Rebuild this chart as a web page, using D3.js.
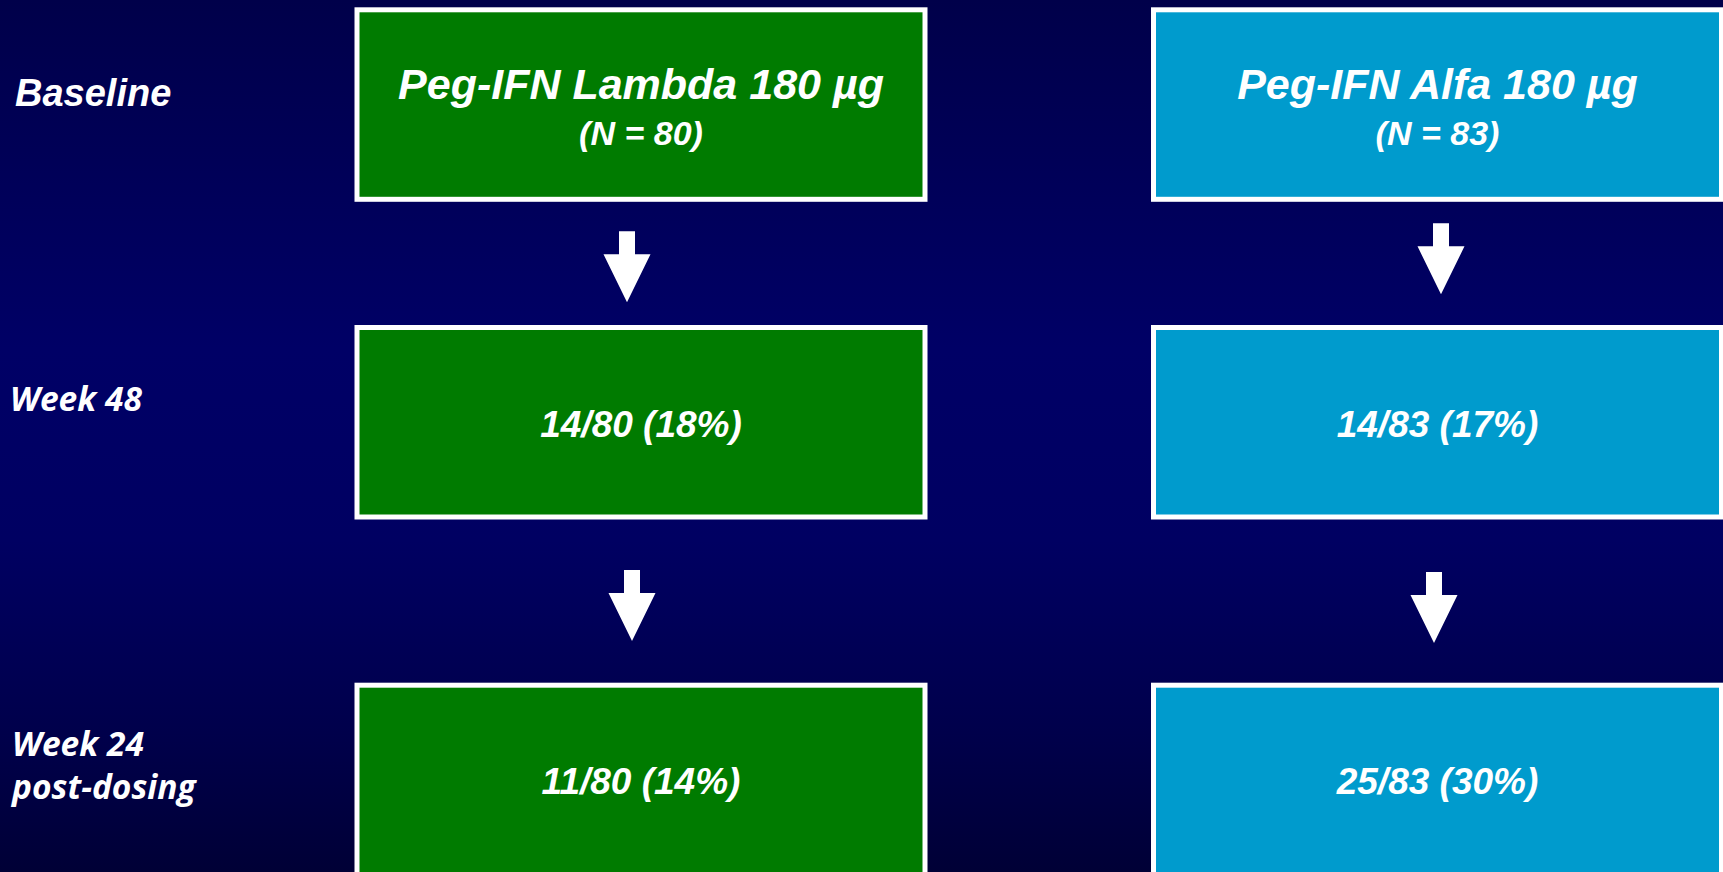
<!DOCTYPE html>
<html>
<head>
<meta charset="utf-8">
<script src="https://cdn.jsdelivr.net/npm/d3@7"></script>
<style>
  html, body { margin: 0; padding: 0; background: #000055; overflow: hidden; }
  svg { display: block; }
</style>
</head>
<body>
<svg id="chart" width="1723" height="872"></svg>
<script>
// Treatment arms (columns)
const arms = ["Peg-IFN Lambda 180 µg", "Peg-IFN Alfa 180 µg"];
const armN = [80, 83];
const armColors = ["#007b00", "#009bcd"];

// Time points (rows); multi-line labels are split into lines
const stages = ["Baseline", "Week 48", "Week 24 post-dosing"];
const stageLines = [["Baseline"], ["Week 48"], ["Week 24", "post-dosing"]];

// Responders at each follow-up time point, per arm
const week48Responders = [14, 14];
const week48Percent = [18, 17];
const postDosingResponders = [11, 25];
const postDosingPercent = [14, 30];

// ---- layout ----
const W = 1723, H = 872;
const boxW = 573, boxH = 194.5, border = 5;

const svg = d3.select("#chart");

const defs = svg.append("defs");
const grad = defs.append("linearGradient")
  .attr("id", "bg").attr("x1", 0).attr("y1", 0).attr("x2", 0).attr("y2", 1);
[[0, "#00004a"], [0.4, "#000066"], [0.62, "#000062"], [0.85, "#00004a"], [1, "#000036"]]
  .forEach(([o, c]) => grad.append("stop").attr("offset", o).attr("stop-color", c));
svg.append("rect").attr("width", W).attr("height", H).attr("fill", "url(#bg)");

// column and row positions (outer edges of each box)
const x = d3.scaleOrdinal().domain(arms).range([354.5, 1151]);
const y = d3.scaleOrdinal().domain(stages).range([7.3, 325, 682.7]);

// build cell table from the arrays above
const cells = [];
arms.forEach((arm, i) => {
  cells.push({ arm, stage: stages[0], col: i,
    lines: [{ t: arm, size: 43, dy: 91.5 }, { t: `(N = ${armN[i]})`, size: 34, dy: 137.5 }] });
  cells.push({ arm, stage: stages[1], col: i,
    lines: [{ t: `${week48Responders[i]}/${armN[i]} (${week48Percent[i]}%)`, size: 37, dy: 111.5 }] });
  cells.push({ arm, stage: stages[2], col: i,
    lines: [{ t: `${postDosingResponders[i]}/${armN[i]} (${postDosingPercent[i]}%)`, size: 37, dy: 111.5 }] });
});

const g = svg.selectAll("g.cell").data(cells).join("g")
  .attr("class", "cell")
  .attr("transform", d => `translate(${x(d.arm)},${y(d.stage)})`);

g.append("rect")
  .attr("x", border / 2).attr("y", border / 2)
  .attr("width", boxW - border).attr("height", boxH - border)
  .attr("fill", d => armColors[d.col])
  .attr("stroke", "#ffffff").attr("stroke-width", border);

g.selectAll("text").data(d => d.lines).join("text")
  .attr("x", boxW / 2)
  .attr("y", d => d.dy)
  .attr("text-anchor", "middle")
  .attr("fill", "#ffffff")
  .attr("font-family", "'Liberation Sans', Arial, sans-serif")
  .attr("font-weight", "bold")
  .attr("font-style", "italic")
  .attr("font-size", d => d.size)
  .text(d => d.t);

// down arrows between consecutive time points
const arrows = [
  { arm: arms[0], from: stages[0], dx: 272.5, top: 224, tip: 95 },
  { arm: arms[1], from: stages[0], dx: 290,   top: 216, tip: 87 },
  { arm: arms[0], from: stages[1], dx: 277.5, top: 245, tip: 316 },
  { arm: arms[1], from: stages[1], dx: 283,   top: 247, tip: 318 }
];
const shaftW = 16, headW = 47, headL = 48;
svg.selectAll("path.arrow").data(arrows).join("path")
  .attr("class", "arrow")
  .attr("fill", "#ffffff")
  .attr("d", d => {
    const cx = x(d.arm) + d.dx;
    const y0 = y(d.from) + d.top;
    const yt = y(d.from) + d.tip + (d.from === stages[0] ? 200 : 0);
    const yh = yt - headL;
    return `M${cx - shaftW / 2},${y0}H${cx + shaftW / 2}V${yh}H${cx + headW / 2}` +
           `L${cx},${yt}L${cx - headW / 2},${yh}H${cx - shaftW / 2}Z`;
  });

// row labels on the left
const labelStyle = [
  { x: 15, y: [106], family: "'Liberation Sans', Arial, sans-serif", size: 38 },
  { x: 10, y: [410.5], family: "'Open Sans', sans-serif", size: 33.5 },
  { x: 12, y: [756, 799], family: "'Open Sans', sans-serif", size: 33.5 }
];
const rowLabels = svg.selectAll("text.row").data(stageLines).join("text")
  .attr("class", "row")
  .attr("fill", "#ffffff")
  .attr("font-weight", "bold")
  .attr("font-style", "italic")
  .attr("font-family", (d, i) => labelStyle[i].family)
  .attr("font-size", (d, i) => labelStyle[i].size);
rowLabels.selectAll("tspan").data((d, i) => d.map((t, j) => ({ t, x: labelStyle[i].x, y: labelStyle[i].y[j] })))
  .join("tspan")
  .attr("x", d => d.x).attr("y", d => d.y)
  .text(d => d.t);
</script>
</body>
</html>
